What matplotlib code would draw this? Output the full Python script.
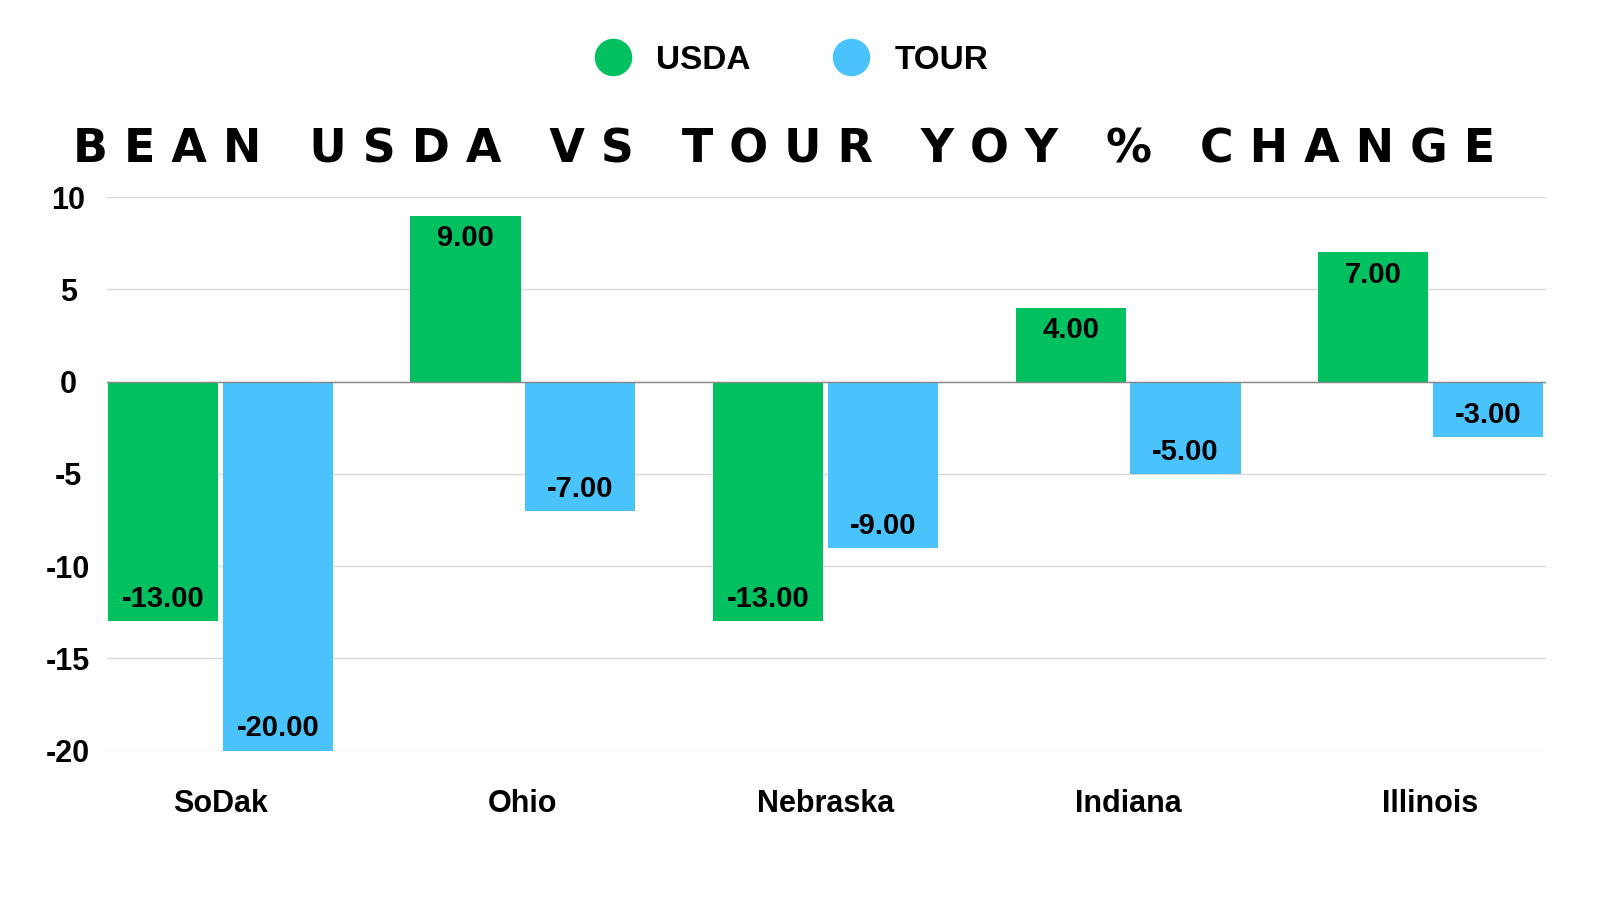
import numpy as np
import matplotlib.pyplot as plt
from matplotlib.lines import Line2D

states = ['SoDak', 'Ohio', 'Nebraska', 'Indiana', 'Illinois']
usda = [-13, 9, -13, 4, 7]
tour = [-20, -7, -9, -5, -3]

green = '#00c060'
blue = '#4ac3fc'

plt.rcParams['font.family'] = ['Liberation Sans', 'DejaVu Sans']
plt.rcParams['axes.unicode_minus'] = False
fig = plt.figure(figsize=(16, 9), dpi=100)
ax = fig.add_axes([0.067, 0.166, 0.899, 0.615])

x = np.arange(len(states))
off = 0.19
w = 0.364
ax.bar(x - off, usda, w, color=green, zorder=3)
ax.bar(x + off, tour, w, color=blue, zorder=3)

for xs, vals in ((x - off, usda), (x + off, tour)):
    for xi, v in zip(xs, vals):
        y = v - 1.2 if v > 0 else v + 1.2
        ax.text(xi, y, f'{v:.2f}', ha='center', va='center',
                fontsize=21, fontweight='bold', color='black', zorder=4)

ax.set_ylim(-20, 10)
ax.set_xlim(-0.374, 4.38)
ax.set_yticks(range(-20, 11, 5))
ax.set_xticks(x)
ax.set_xticklabels(states)
ax.grid(axis='y', color='#d9d9d9', lw=1, zorder=0)
ax.axhline(0, color='#888888', lw=1, zorder=3.5)
for s in ax.spines.values():
    s.set_visible(False)
ax.tick_params(length=0, labelsize=22)
ax.tick_params(axis='x', pad=28)
ax.tick_params(axis='y', pad=28)
for lab in ax.get_xticklabels() + ax.get_yticklabels():
    lab.set_fontweight('bold')
for lab in ax.get_yticklabels():
    lab.set_horizontalalignment('center')

title = 'BEAN USDA VS TOUR YOY % CHANGE'
spaced = '   '.join(' '.join(word) for word in title.split())
fig.text(0.49, 0.833, spaced, ha='center', va='center',
         fontsize=33, fontweight='bold', family='DejaVu Sans')

handles = [Line2D([], [], marker='o', ls='', ms=26, color=green),
           Line2D([], [], marker='o', ls='', ms=26, color=blue)]
fig.legend(handles, ['USDA', 'TOUR'], loc='center', bbox_to_anchor=(0.49, 0.933),
           ncol=2, frameon=False, prop={'size': 24, 'weight': 'bold'},
           handletextpad=0.3, columnspacing=2.0)

fig.savefig('out.png')
